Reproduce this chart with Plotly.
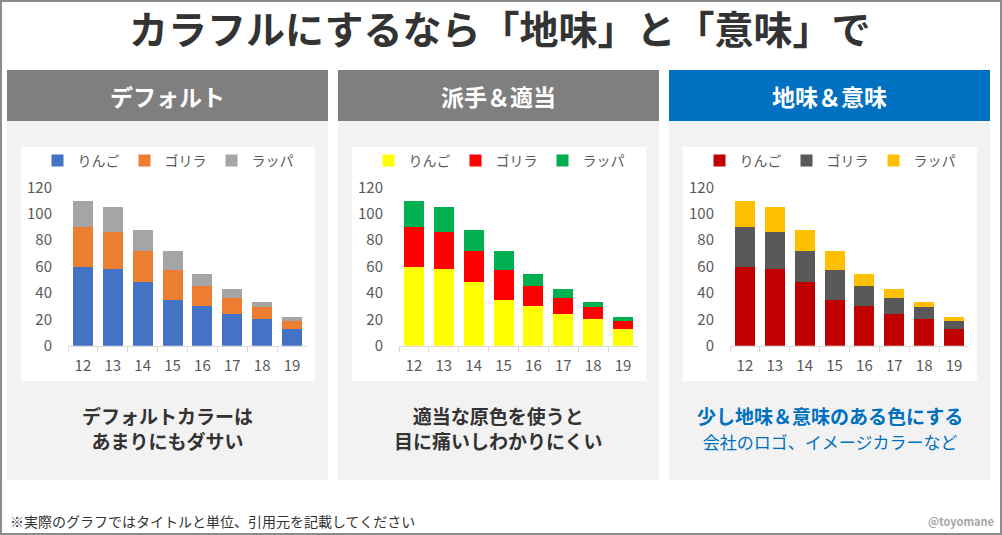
import plotly.graph_objects as go

W, H = 1002, 535

years = ["12", "13", "14", "15", "16", "17", "18", "19"]
apple = [60, 58, 48, 35, 30, 24, 20, 13]
gorilla = [30, 28, 24, 22, 15, 12, 9, 6]
trumpet = [20, 19, 16, 15, 9, 7, 4, 3]
series_names = ["りんご", "ゴリラ", "ラッパ"]
y_ticks = [0, 20, 40, 60, 80, 100, 120]

panel_titles = ["デフォルト", "派手＆適当", "地味＆意味"]
palettes = [
    ["#4472C4", "#ED7D31", "#A5A5A5"],
    ["#FFFF00", "#FF0000", "#00B050"],
    ["#C00000", "#595959", "#FFC000"],
]
header_colors = ["#7F7F7F", "#7F7F7F", "#0070C0"]
main_title = "カラフルにするなら「地味」と「意味」で"
captions = [
    ["デフォルトカラーは", "あまりにもダサい"],
    ["適当な原色を使うと", "目に痛いしわかりにくい"],
    ["少し地味＆意味のある色にする", "会社のロゴ、イメージカラーなど"],
]
footnote = "※実際のグラフではタイトルと単位、引用元を記載してください"
credit = "@toyomane"

FONT = "Noto Sans CJK JP"


def px(x):
    return x / W


def py(y):
    return 1 - y / H


fig = go.Figure()
shapes = []
annotations = []

# outer border
shapes.append(dict(type="rect", xref="paper", yref="paper", x0=px(1), x1=px(W - 1),
                   y0=py(H - 1), y1=py(1), line=dict(color="#8C8C8C", width=2),
                   fillcolor="rgba(0,0,0,0)", layer="below"))

annotations.append(dict(text="<b>" + main_title + "</b>", x=px(499), y=py(27), xref="paper", yref="paper",
                        showarrow=False, xanchor="center", yanchor="middle",
                        font=dict(family=FONT, size=39, color="#333333")))

panel_offset = 331
series_vals = [apple, gorilla, trumpet]

for i in range(3):
    off = i * panel_offset
    # header
    shapes.append(dict(type="rect", xref="paper", yref="paper", x0=px(7 + off), x1=px(328 + off),
                       y0=py(121), y1=py(70), line=dict(width=0), fillcolor=header_colors[i], layer="below"))
    # body
    shapes.append(dict(type="rect", xref="paper", yref="paper", x0=px(7 + off), x1=px(328 + off),
                       y0=py(480), y1=py(121), line=dict(width=0), fillcolor="#F2F2F2", layer="below"))
    # white chart area
    shapes.append(dict(type="rect", xref="paper", yref="paper", x0=px(21 + off), x1=px(315 + off),
                       y0=py(381), y1=py(147), line=dict(width=0), fillcolor="#FFFFFF", layer="below"))
    annotations.append(dict(text="<b>" + panel_titles[i] + "</b>", x=px(167.5 + off), y=py(96),
                            xref="paper", yref="paper", showarrow=False, xanchor="center", yanchor="middle",
                            font=dict(family=FONT, size=23, color="#FFFFFF")))
    if i < 2:
        cap = "<b>" + captions[i][0] + "</b><br><b>" + captions[i][1] + "</b>"
        annotations.append(dict(text=cap, x=px(167.5 + off), y=py(427.5),
                                xref="paper", yref="paper", showarrow=False, xanchor="center", yanchor="middle",
                                font=dict(family=FONT, size=19, color="#333333")))
    else:
        cap = ("<b>" + captions[i][0] + "</b><br><span style='font-size:17px'>"
               + captions[i][1] + "</span>")
        annotations.append(dict(text=cap, x=px(167.5 + off), y=py(428.5),
                                xref="paper", yref="paper", showarrow=False, xanchor="center", yanchor="middle",
                                font=dict(family=FONT, size=19, color="#0070C0")))

    sfx = "" if i == 0 else str(i + 1)
    xa = "x" + sfx
    ya = "y" + sfx
    lg = "legend" + sfx
    for s in range(3):
        fig.add_trace(go.Bar(x=years, y=series_vals[s], name=series_names[s], xaxis=xa, yaxis=ya,
                             marker=dict(color=palettes[i][s], line=dict(width=0)), legend=lg))
    fig.layout["xaxis" + sfx] = dict(domain=[px(68 + off), px(307 + off)], anchor=ya, type="category",
                                     showgrid=False, showline=True, linecolor="#D9D9D9", linewidth=1,
                                     ticks="outside", tickson="boundaries", ticklen=5, tickcolor="#D9D9D9",
                                     tickfont=dict(family=FONT, size=15, color="#595959"),
                                     ticklabelstandoff=6, fixedrange=True, automargin=False)
    fig.layout["yaxis" + sfx] = dict(domain=[py(345.7), py(187.3)], anchor=xa, range=[0, 120],
                                     tickvals=y_ticks, showgrid=False, zeroline=False, showline=False,
                                     tickfont=dict(family=FONT, size=15, color="#595959"),
                                     ticklabelstandoff=15, fixedrange=True, automargin=False)
    fig.layout[lg] = dict(orientation="h", x=px(168 + off), xanchor="center", y=py(161), yanchor="middle",
                          bgcolor="rgba(0,0,0,0)", font=dict(family=FONT, size=14, color="#595959"),
                          itemwidth=30, traceorder="normal", itemclick=False, itemdoubleclick=False)

annotations.append(dict(text=footnote, x=px(8), y=py(521), xref="paper", yref="paper", showarrow=False,
                        xanchor="left", yanchor="middle", font=dict(family=FONT, size=14, color="#333333")))
annotations.append(dict(text="<b>" + credit + "</b>", x=px(996), y=py(521), xref="paper", yref="paper",
                        showarrow=False, xanchor="right", yanchor="middle",
                        font=dict(family=FONT, size=11, color="#A6A6A6")))

fig.update_layout(width=W, height=H, margin=dict(l=0, r=0, t=0, b=0, pad=0, autoexpand=False),
                  barmode="stack", bargap=0.33,
                  paper_bgcolor="#FFFFFF", plot_bgcolor="rgba(0,0,0,0)", shapes=shapes,
                  annotations=annotations, showlegend=True, font=dict(family=FONT))

fig.write_html("out.html", config=dict(displayModeBar=False, staticPlot=True),
               post_script="document.body.style.margin='0px';document.body.style.overflow='hidden';")
